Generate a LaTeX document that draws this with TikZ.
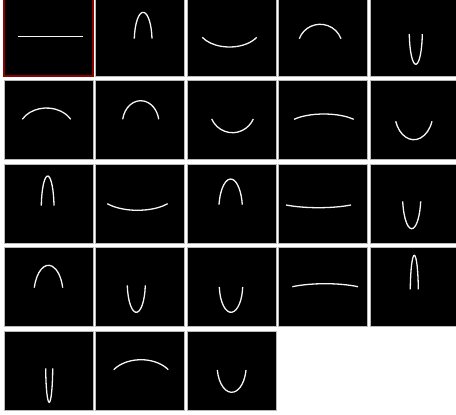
\documentclass[tikz,border=0pt]{standalone}
\begin{document}
\begin{tikzpicture}[x=1pt,y=-1pt,
  tile/.style={fill=black, draw=gray!55, line width=0.8pt},
  sel/.style={draw=red!55!black, line width=1.4pt},
  curve/.style={draw=white!92!gray, line width=1.3pt}]
% arch: x1, yend, x2, ytop, alpha
\newcommand\archc[5]{%
  \pgfmathsetmacro\ra{(#3-#1)/2/cos(#5)}%
  \pgfmathsetmacro\rb{(#2-#4)/(1-sin(#5))}%
  \draw[curve] (#1,#2) arc[start angle={180+#5}, end angle={360-#5}, x radius=\ra, y radius=\rb];}
% U: x1, yend, x2, ybottom, alpha
\newcommand\uc[5]{%
  \pgfmathsetmacro\ra{(#3-#1)/2/cos(#5)}%
  \pgfmathsetmacro\rb{(#4-#2)/(1-sin(#5))}%
  \draw[curve] (#1,#2) arc[start angle={180-#5}, end angle={#5}, x radius=\ra, y radius=\rb];}
\useasboundingbox (0,0) rectangle (456,415);
\clip (0,0) rectangle (456,415);
\fill[white] (0,0) rectangle (456,415);
\foreach \c in {0,...,4}{\foreach \r in {0,...,3}{
  \draw[tile] ({4+91.5*\c},{-3+83.5*\r}) rectangle ++(89,79);}}
\foreach \c in {0,1,2}{\draw[tile] ({4+91.5*\c},331) rectangle ++(89,79);}
\draw[sel] (4,-3) rectangle ++(89,79);
% row 1
\draw[curve] (18.3,36.7) -- (83,36.7);
\archc{134.3}{38.7}{152}{12.3}{5}
\uc{202.3}{37.3}{256.7}{47}{30}
\archc{299.3}{38.7}{341}{24.3}{20}
\uc{409.3}{34}{422.3}{64.3}{4}
% row 2
\archc{22.3}{119.3}{70.7}{108}{30}
\archc{122.7}{119.3}{158.7}{100.7}{10}
\uc{211.7}{119}{253.3}{132.7}{25}
\archc{294}{119.3}{353.7}{114}{40}
\uc{395.7}{121.3}{432}{139.7}{20}
% row 3
\archc{41.3}{205.7}{54}{176}{5}
\uc{107.3}{203.7}{167.7}{210.3}{40}
\archc{219}{204.7}{242.3}{179}{10}
\uc{286}{205}{351}{207.7}{50}
\uc{402.7}{201.3}{420.7}{228.7}{10}
% row 4
\archc{34.3}{287.7}{62.7}{265.3}{15}
\uc{127.3}{285.3}{145.3}{312.3}{5}
\uc{219.3}{287}{242.7}{312.3}{5}
\archc{292.3}{286.7}{358}{283.7}{50}
\archc{410.3}{289.3}{418.3}{255.3}{4}
% row 5
\uc{45.7}{368.3}{52.7}{402.3}{3}
\archc{113.7}{369.7}{168.3}{359.7}{35}
\uc{217.3}{370}{246}{392.3}{10}
\end{tikzpicture}
\end{document}
